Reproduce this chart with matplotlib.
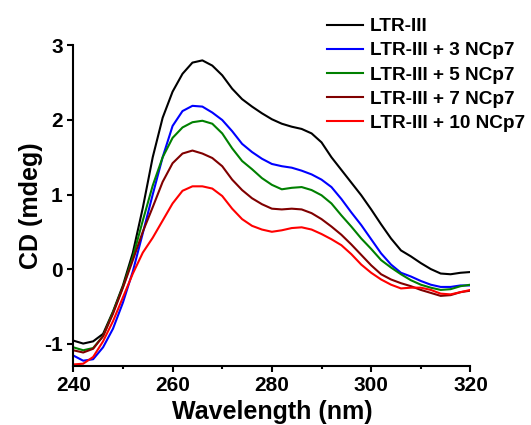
import matplotlib
matplotlib.use("Agg")
import matplotlib.pyplot as plt
from matplotlib.ticker import MultipleLocator

plt.rcParams['font.family'] = ['Liberation Sans', 'DejaVu Sans']
plt.rcParams['font.weight'] = 'bold'
plt.rcParams['axes.unicode_minus'] = False

# wavelength grid (nm)
wavelength = list(range(240, 321, 2))

ltr = [-0.96, -1.00, -0.97, -0.87, -0.57, -0.22, 0.22, 0.82, 1.50, 2.03,
       2.38, 2.62, 2.77, 2.80, 2.73, 2.60, 2.42, 2.28, 2.18, 2.09,
       2.01, 1.95, 1.91, 1.88, 1.82, 1.70, 1.50, 1.33, 1.16, 0.99,
       0.80, 0.60, 0.41, 0.25, 0.17, 0.08, 0.00, -0.06, -0.07, -0.05, -0.04]
ncp3 = [-1.16, -1.23, -1.21, -1.05, -0.80, -0.45, -0.03, 0.48, 1.00, 1.50,
        1.92, 2.12, 2.19, 2.18, 2.10, 2.00, 1.85, 1.68, 1.57, 1.48,
        1.41, 1.38, 1.36, 1.32, 1.27, 1.20, 1.10, 0.94, 0.76, 0.59,
        0.40, 0.21, 0.06, -0.05, -0.10, -0.16, -0.21, -0.24, -0.24, -0.22, -0.22]
ncp5 = [-1.05, -1.09, -1.06, -0.90, -0.58, -0.24, 0.16, 0.65, 1.12, 1.50,
        1.76, 1.90, 1.97, 1.99, 1.95, 1.82, 1.62, 1.45, 1.34, 1.22,
        1.13, 1.07, 1.09, 1.10, 1.06, 0.99, 0.88, 0.72, 0.57, 0.41,
        0.27, 0.12, 0.02, -0.07, -0.15, -0.21, -0.25, -0.28, -0.27, -0.23, -0.21]
ncp7 = [-1.09, -1.12, -1.07, -0.90, -0.60, -0.25, 0.12, 0.50, 0.83, 1.17,
        1.42, 1.55, 1.59, 1.55, 1.49, 1.38, 1.20, 1.06, 0.95, 0.87,
        0.81, 0.80, 0.81, 0.80, 0.75, 0.67, 0.57, 0.46, 0.33, 0.19,
        0.05, -0.07, -0.14, -0.19, -0.23, -0.28, -0.32, -0.36, -0.35, -0.31, -0.29]
ncp10 = [-1.28, -1.27, -1.18, -0.97, -0.70, -0.38, -0.06, 0.22, 0.42, 0.65,
         0.88, 1.05, 1.11, 1.11, 1.08, 0.98, 0.81, 0.67, 0.58, 0.53,
         0.50, 0.52, 0.55, 0.56, 0.53, 0.47, 0.40, 0.32, 0.20, 0.06,
         -0.05, -0.14, -0.21, -0.26, -0.25, -0.25, -0.28, -0.33, -0.34, -0.31, -0.28]

series = [ltr, ncp3, ncp5, ncp7, ncp10]
labels = ["LTR-III", "LTR-III + 3 NCp7", "LTR-III + 5 NCp7",
          "LTR-III + 7 NCp7", "LTR-III + 10 NCp7"]
colors = ["black", "#0000ff", "#008000", "#800000", "#ff0000"]

fig = plt.figure(figsize=(5.31, 4.25), dpi=100)
ax = fig.add_axes([0.138, 0.139, 0.748, 0.754])

for y, lab, c in zip(series, labels, colors):
    ax.plot(wavelength, y, color=c, lw=1.5, label=lab)

ax.set_xlim(240, 320)
ax.set_ylim(-1.3, 3)
ax.xaxis.set_major_locator(MultipleLocator(20))
ax.xaxis.set_minor_locator(MultipleLocator(10))
ax.yaxis.set_major_locator(MultipleLocator(1))

for s in ['top', 'right']:
    ax.spines[s].set_visible(False)
for s in ['left', 'bottom']:
    ax.spines[s].set_linewidth(1.5)

ax.tick_params(which='major', length=4.5, width=1.5, labelsize=15, pad=3)
ax.tick_params(which='minor', length=2.5, width=1.5)

ax.set_xlabel("Wavelength (nm)", fontsize=18, fontweight='bold', labelpad=3)
ax.set_ylabel("CD (mdeg)", fontsize=18, fontweight='bold', labelpad=1)

fig.legend(loc='upper left', bbox_to_anchor=(0.615, 0.958), frameon=False,
           fontsize=13.7, handlelength=1.9, handletextpad=0.37,
           labelspacing=0.36, borderaxespad=0, borderpad=0)

fig.savefig("out.png", dpi=100)
